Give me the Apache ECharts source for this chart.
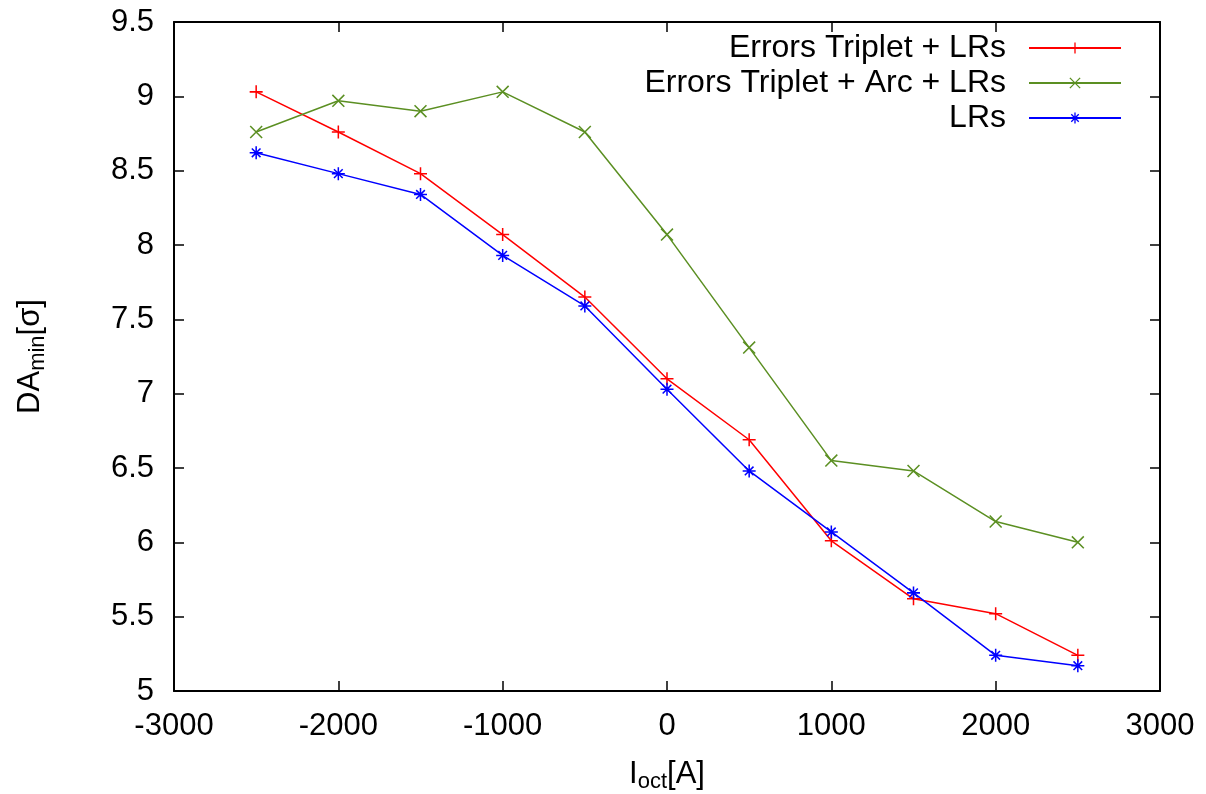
<!DOCTYPE html>
<html>
<head>
<meta charset="utf-8">
<script src="https://cdn.jsdelivr.net/npm/echarts@6/dist/echarts.min.js"></script>
<style>html,body{margin:0;padding:0;background:#fff;}#c{width:1206px;height:794px;}</style>
</head>
<body>
<div id="c"></div>
<script>
const xValues = [-2500, -2000, -1500, -1000, -500, 0, 500, 1000, 1500, 2000, 2500];
const seriesNames = ['Errors Triplet + LRs', 'Errors Triplet + Arc + LRs', 'LRs'];
const redValues = [9.03, 8.76, 8.48, 8.07, 7.65, 7.10, 6.69, 6.01, 5.62, 5.52, 5.24];
const greenValues = [8.76, 8.97, 8.90, 9.03, 8.76, 8.07, 7.31, 6.55, 6.48, 6.14, 6.00];
const blueValues = [8.62, 8.48, 8.34, 7.93, 7.59, 7.03, 6.48, 6.07, 5.66, 5.24, 5.17];

const PLUS = 'path://M5.3,0H6.7V12H5.3Z M0,5.3H12V6.7H0Z';
const CROSS = 'path://M0,1L1,0L12,11L11,12Z M11,0L12,1L1,12L0,11Z';
const STAR = 'path://M5.3,0H6.7V12H5.3Z M0,5.3H12V6.7H0Z M1.5,2.5L2.5,1.5L10.5,9.5L9.5,10.5Z M9.5,1.5L10.5,2.5L2.5,10.5L1.5,9.5Z';

const font = '"Liberation Sans", Arial, Helvetica, sans-serif';
const pairs = vals => xValues.map((x, i) => [x, vals[i]]);

function mkSeries(name, vals, color, sym, size) {
  return {
    name: name, type: 'line', data: pairs(vals),
    symbol: sym, symbolSize: size, showSymbol: true,
    lineStyle: {color: color, width: 1.5},
    itemStyle: {color: color},
    emphasis: {disabled: true},
    xAxisIndex: 0, yAxisIndex: 0, z: 3
  };
}

const chart = echarts.init(document.getElementById('c'), null, {renderer: 'canvas'});
function axisCommon() {
  return {
    axisLine: {show: true, onZero: false, lineStyle: {color: '#000', width: 2}},
    axisTick: {show: true, inside: true, length: 10, lineStyle: {color: '#000', width: 1.5}},
    splitLine: {show: false}
  };
}
chart.setOption({
  animation: false,
  backgroundColor: '#fff',
  grid: {left: 174, right: 46, top: 22, bottom: 103, containLabel: false, outerBoundsMode: 'none'},
  legend: {
    orient: 'vertical', right: 84, top: 32, align: 'right', padding: 0,
    itemWidth: 92, itemHeight: 14, itemGap: 3,
    textStyle: {fontFamily: font, fontSize: 32, color: '#000', padding: [0, 18, 0, 0]},
    data: seriesNames,
    selectedMode: false
  },
  xAxis: [
    Object.assign({type: 'value', min: -3000, max: 3000, interval: 1000, position: 'bottom',
      name: '{a|I}{s|oct}{a|[A]}', nameLocation: 'middle', nameGap: 64,
      nameTextStyle: {rich: {
        a: {fontFamily: font, fontSize: 31, color: '#000'},
        s: {fontFamily: font, fontSize: 22, color: '#000', padding: [16, 0, 0, 0]}
      }},
      axisLabel: {fontFamily: font, fontSize: 31, color: '#000', margin: 20, formatter: v => String(v)}}, axisCommon()),
    Object.assign({type: 'value', min: -3000, max: 3000, interval: 1000, position: 'top',
      axisLabel: {show: false}}, axisCommon())
  ],
  yAxis: [
    Object.assign({type: 'value', min: 5, max: 9.5, interval: 0.5, position: 'left',
      name: '{a|DA}{s|min}{a|[σ]}', nameLocation: 'middle', nameGap: 125, nameRotate: 90,
      nameTextStyle: {rich: {
        a: {fontFamily: font, fontSize: 31, color: '#000'},
        s: {fontFamily: font, fontSize: 22, color: '#000', padding: [16, 0, 0, 0]}
      }},
      axisLabel: {fontFamily: font, fontSize: 31, color: '#000', margin: 20, formatter: v => String(v)}}, axisCommon()),
    Object.assign({type: 'value', min: 5, max: 9.5, interval: 0.5, position: 'right',
      axisLabel: {show: false}}, axisCommon())
  ],
  series: [
    mkSeries(seriesNames[0], redValues, '#ff0000', PLUS, 13),
    mkSeries(seriesNames[1], greenValues, '#5b8f22', CROSS, 13),
    mkSeries(seriesNames[2], blueValues, '#0000ff', STAR, 13)
  ]
});
</script>
</body>
</html>
